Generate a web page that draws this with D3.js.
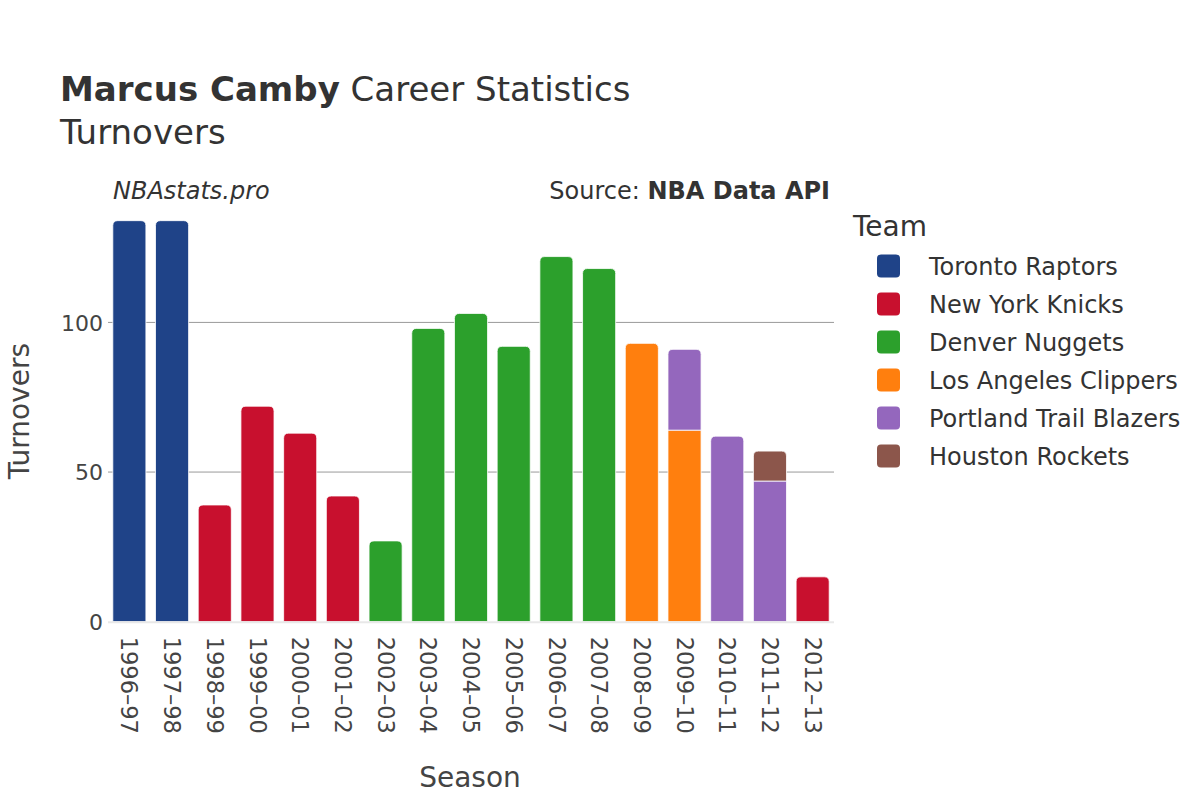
<!DOCTYPE html>
<html>
<head>
<meta charset="utf-8">
<script src="https://cdn.jsdelivr.net/npm/d3@7"></script>
<style>
  html, body { margin: 0; padding: 0; background: #fff; }
  svg { display: block; font-family: "DejaVu Sans", sans-serif; }
</style>
</head>
<body>
<svg id="chart" width="1200" height="800"></svg>
<script>
const seasons = ["1996–97","1997–98","1998–99","1999–00","2000–01","2001–02","2002–03","2003–04","2004–05","2005–06","2006–07","2007–08","2008–09","2009–10","2010–11","2011–12","2012–13"];
const teams = ["Toronto Raptors","New York Knicks","Denver Nuggets","Los Angeles Clippers","Portland Trail Blazers","Houston Rockets"];
const teamColors = ["#1f4388","#c8102e","#2ca02c","#ff7f0e","#9467bd","#8c564b"];
const torontoRaptors       = [134,134,0,0,0,0,0,0,0,0,0,0,0,0,0,0,0];
const newYorkKnicks        = [0,0,39,72,63,42,0,0,0,0,0,0,0,0,0,0,15];
const denverNuggets        = [0,0,0,0,0,0,27,98,103,92,122,118,0,0,0,0,0];
const losAngelesClippers   = [0,0,0,0,0,0,0,0,0,0,0,0,93,64,0,0,0];
const portlandTrailBlazers = [0,0,0,0,0,0,0,0,0,0,0,0,0,27,62,47,0];
const houstonRockets       = [0,0,0,0,0,0,0,0,0,0,0,0,0,0,0,10,0];
const yTicks = [0,50,100];

const seriesValues = [torontoRaptors,newYorkKnicks,denverNuggets,losAngelesClippers,portlandTrailBlazers,houstonRockets];
const rows = seasons.map((s,i) => {
  const r = {season: s};
  teams.forEach((t,k) => r[t] = seriesValues[k][i]);
  return r;
});

const svg = d3.select("#chart");
const plotLeft = 108, plotRight = 834, plotTop = 200.6, plotBottom = 621.7;

const x = d3.scaleBand().domain(seasons).range([plotLeft, plotRight]).paddingInner(0.225).paddingOuter(0.1125);
const totals = rows.map(r => d3.sum(teams, t => r[t]));
const y = d3.scaleLinear().domain([0, d3.max(totals) * 1.05]).range([plotBottom, plotTop]);
const color = d3.scaleOrdinal().domain(teams).range(teamColors);

// gridlines
svg.append("g").selectAll("line").data(yTicks.filter(d => d > 0)).join("line")
  .attr("x1", plotLeft).attr("x2", plotRight)
  .attr("y1", d => y(d)).attr("y2", d => y(d))
  .attr("stroke", "#999").attr("stroke-width", 1);

// stacked bars
const stack = d3.stack().keys(teams)(rows);
const topKey = rows.map(r => { let k = null; teams.forEach(t => { if (r[t] > 0) k = t; }); return k; });

function barPath(x0, y0, w, h, r) {
  r = Math.min(r, h, w / 2);
  return `M${x0},${y0 + h}V${y0 + r}Q${x0},${y0} ${x0 + r},${y0}H${x0 + w - r}Q${x0 + w},${y0} ${x0 + w},${y0 + r}V${y0 + h}Z`;
}

svg.append("g").selectAll("g").data(stack).join("g")
  .attr("fill", d => color(d.key))
  .each(function(series) {
    d3.select(this).selectAll("path").data(series.filter(d => d[1] - d[0] > 0)).join("path")
      .attr("d", d => {
        const idx = seasons.indexOf(d.data.season);
        const x0 = x(d.data.season), w = x.bandwidth();
        const y0 = y(d[1]), h = y(d[0]) - y(d[1]);
        const r = topKey[idx] === series.key ? 5 : 0;
        return barPath(x0, y0, w, h, r);
      })
      .attr("stroke", "#fff").attr("stroke-width", 0.8);
  });

// zero line
svg.append("line").attr("x1", plotLeft).attr("x2", plotRight)
  .attr("y1", y(0) + 0.5).attr("y2", y(0) + 0.5)
  .attr("stroke", "#e8e8e8").attr("stroke-width", 2);

// y axis
const yAxis = d3.axisLeft(y).tickValues(yTicks).tickSize(0).tickPadding(5);
const yg = svg.append("g").attr("transform", `translate(${plotLeft},0)`).call(yAxis);
yg.select(".domain").remove();
yg.selectAll("text").attr("font-size", 22).attr("fill", "#444").attr("font-family", "DejaVu Sans, sans-serif").attr("dy", "0.35em");

// x axis
const xAxis = d3.axisBottom(x).tickSize(0).tickPadding(0);
const xg = svg.append("g").attr("transform", `translate(0,${plotBottom})`).call(xAxis);
xg.select(".domain").remove();
xg.selectAll("text")
  .attr("font-size", 22.5).attr("fill", "#444").attr("font-family", "DejaVu Sans, sans-serif")
  .attr("text-anchor", "start")
  .attr("transform", "translate(0,15) rotate(90)")
  .attr("x", 0).attr("y", 0).attr("dy", "0.35em");

// axis titles
svg.append("text").attr("x", (plotLeft + plotRight) / 2 - 1).attr("y", 787)
  .attr("text-anchor", "middle").attr("font-size", 28).attr("fill", "#444").text("Season");
svg.append("text").attr("transform", `translate(29,${(plotTop + plotBottom) / 2}) rotate(-90)`)
  .attr("text-anchor", "middle").attr("font-size", 28).attr("fill", "#444").text("Turnovers");

// title
const title = svg.append("text").attr("x", 60).attr("y", 101).attr("font-size", 34).attr("fill", "#333");
title.append("tspan").attr("font-weight", "bold").text("Marcus Camby");
title.append("tspan").text(" Career Statistics");
svg.append("text").attr("x", 60).attr("y", 144).attr("font-size", 34).attr("fill", "#333").text("Turnovers");

svg.append("text").attr("x", 113).attr("y", 199).attr("font-size", 24).attr("font-style", "italic").attr("fill", "#333").text("NBAstats.pro");
const src = svg.append("text").attr("x", 830).attr("y", 199).attr("font-size", 24).attr("text-anchor", "end").attr("fill", "#333");
src.append("tspan").text("Source: ");
src.append("tspan").attr("font-weight", "bold").text("NBA Data API");

// legend
const lg = svg.append("g");
lg.append("text").attr("x", 853).attr("y", 236).attr("font-size", 28).attr("fill", "#333").text("Team");
const items = lg.selectAll("g.item").data(teams).join("g").attr("class", "item")
  .attr("transform", (d, i) => `translate(0,${266 + i * 38})`);
items.append("rect").attr("x", 877).attr("y", -11.5).attr("width", 23).attr("height", 23).attr("rx", 4)
  .attr("fill", d => color(d));
items.append("text").attr("x", 929).attr("y", 1).attr("dy", "0.35em").attr("font-size", 24).attr("fill", "#333").text(d => d);
</script>
</body>
</html>
